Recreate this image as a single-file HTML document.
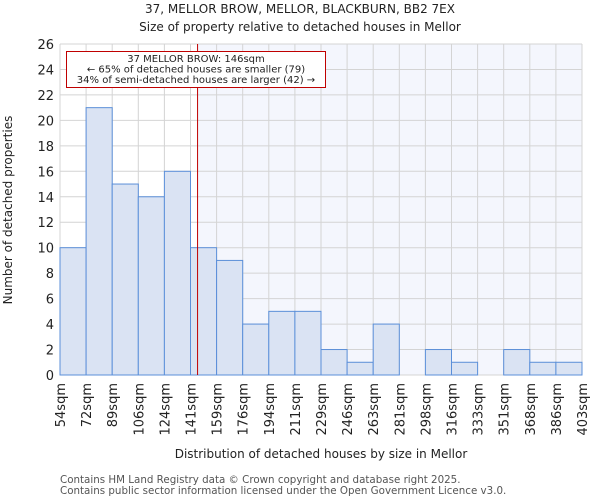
<!DOCTYPE html>
<html><head><meta charset="utf-8"><style>
body{margin:0;background:#fff;font-family:"DejaVu Sans","Liberation Sans",sans-serif}
</style></head><body>
<svg id="chart" width="600" height="500" xmlns="http://www.w3.org/2000/svg" font-family="DejaVu Sans, Liberation Sans, sans-serif">
<text x="300" y="13" text-anchor="middle" font-size="12" fill="#222">37, MELLOR BROW, MELLOR, BLACKBURN, BB2 7EX</text>
<text x="300" y="31" text-anchor="middle" font-size="12" fill="#222">Size of property relative to detached houses in Mellor</text>
<g id="plot"></g>
<text transform="translate(12,210) rotate(-90)" text-anchor="middle" font-size="12" fill="#222">Number of detached properties</text>
<text x="321" y="458" text-anchor="middle" font-size="12" fill="#222">Distribution of detached houses by size in Mellor</text>
<text x="60" y="483" font-size="10.3" fill="#555">Contains HM Land Registry data © Crown copyright and database right 2025.</text>
<text x="60" y="494" font-size="10.3" fill="#555">Contains public sector information licensed under the Open Government Licence v3.0.</text>
</svg>
<script>
const binLabels=["54sqm","72sqm","89sqm","106sqm","124sqm","141sqm","159sqm","176sqm","194sqm","211sqm","229sqm","246sqm","263sqm","281sqm","298sqm","316sqm","333sqm","351sqm","368sqm","386sqm","403sqm"];
const binStarts=[54,71.5,89,106.4,123.9,141.3,158.8,176.2,193.7,211.1,228.6,246,263.5,280.9,298.4,315.8,333.3,350.7,368.2,385.6,403.1];
const counts=[10,21,15,14,16,10,9,4,5,5,2,1,4,0,2,1,0,2,1,1];
const yTicks=[0,2,4,6,8,10,12,14,16,18,20,22,24,26];
const propertySize=146;
const X0=60,X1=582,Y0=375,Y1=44,yMax=26;
const sMin=binStarts[0],sMax=binStarts[binStarts.length-1];
const xs=v=>X0+(v-sMin)/(sMax-sMin)*(X1-X0);
const xb=i=>X0+i*(X1-X0)/counts.length;
const ys=v=>Y0-v/yMax*(Y0-Y1);
const NS="http://www.w3.org/2000/svg";
const g=document.getElementById("plot");
function mk(t,a){const e=document.createElementNS(NS,t);for(const k in a)e.setAttribute(k,a[k]);g.appendChild(e);return e;}
const px=xs(propertySize);
let e=mk("rect",{x:px,y:Y1,width:X1-px,height:Y0-Y1,fill:"#f4f6fd"});


yTicks.forEach(t=>{
 let l=mk("line",{x1:X0,x2:X1,y1:ys(t),y2:ys(t),stroke:"#d4d4d4","stroke-width":1});
 
 
 let tx=mk("text",{x:X0-6,y:ys(t)+5,"text-anchor":"end","font-size":13,fill:"#222"});
 tx.textContent=t;
 
 
});
binLabels.forEach((lab,i)=>{
 const x=xb(i);
 let l=mk("line",{x1:x,x2:x,y1:Y1,y2:Y0,stroke:"#d4d4d4","stroke-width":1});
 
 
 let tx=mk("text",{transform:`translate(${x+5},${Y0+8}) rotate(-90)`,"text-anchor":"end","font-size":13,fill:"#222"});
 tx.textContent=lab;
 
 
});
counts.forEach((c,i)=>{
 if(c<=0)return;
 let r=mk("rect",{x:xb(i),y:ys(c),width:xb(i+1)-xb(i),height:Y0-ys(c),fill:"#dae3f3",stroke:"#5b8fd9","stroke-width":1});
 
 
});
let ln=mk("line",{x1:px,x2:px,y1:Y1,y2:Y0,stroke:"#c00000","stroke-width":1});


let box=mk("rect",{x:66.5,y:51.5,width:259,height:36,fill:"#fff",stroke:"#c00000","stroke-width":1});


["37 MELLOR BROW: 146sqm","← 65% of detached houses are smaller (79)","34% of semi-detached houses are larger (42) →"].forEach((s,i)=>{
 let t=mk("text",{x:196,y:62+i*10.5,"text-anchor":"middle","font-size":10,fill:"#222"});
 t.textContent=s;
 
 
});
</script>
</body></html>
